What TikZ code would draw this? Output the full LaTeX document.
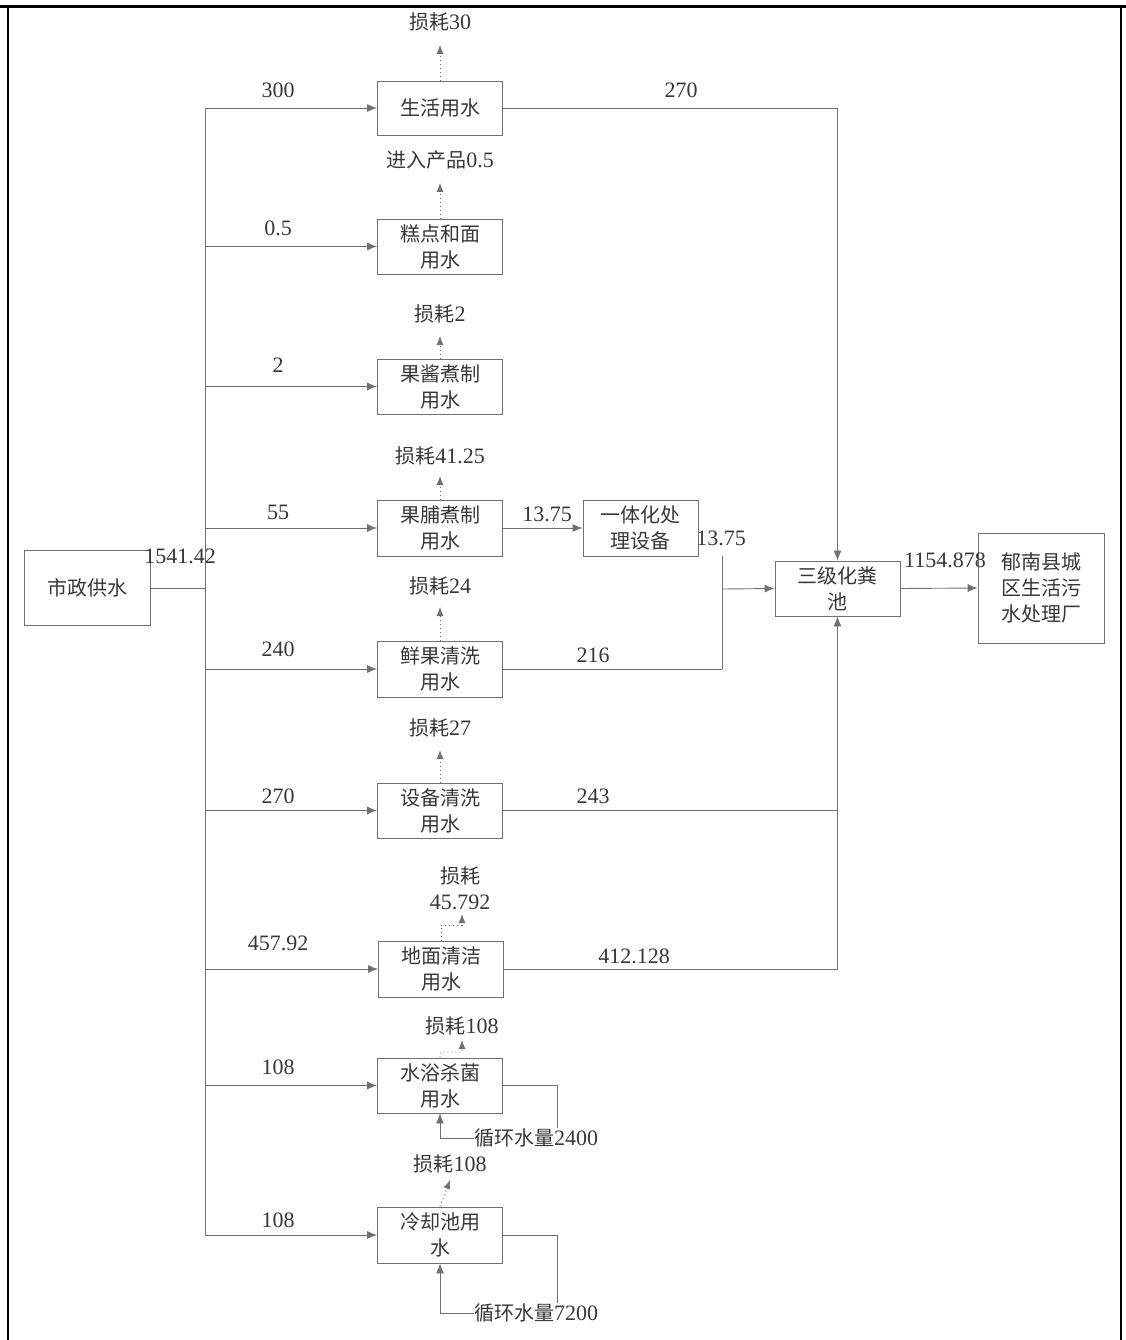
\documentclass[tikz,border=0pt]{standalone}
\usepackage{fontspec}
\setmainfont{Liberation Serif}[Scale=1.1]
\newfontfamily\cjk{Noto Sans CJK SC}
\usetikzlibrary{arrows.meta}
\definecolor{ln}{RGB}{112,112,112}
\definecolor{tx}{RGB}{55,55,55}
\newcommand\zh[1]{{\cjk #1}}
\begin{document}
\begin{tikzpicture}[x=1pt,y=-1pt,
  box/.style={draw=ln, line width=0.9pt, minimum width=125pt, minimum height=55pt, inner sep=1pt, align=center, text=tx, font=\fontsize{20}{26}\selectfont},
  lab/.style={text=tx, font=\fontsize{20}{26}\selectfont, inner sep=1pt, align=center},
  flow/.style={draw=ln, line width=0.9pt, -{Latex[length=10pt,width=8pt]}},
  pl/.style={draw=ln, line width=0.9pt},
  loss/.style={draw=ln, line width=0.9pt, dash pattern=on 1pt off 3pt, -{Latex[length=9pt,width=7pt]}}]
\useasboundingbox (0,0) rectangle (1126,1340);
% frame
\draw[line width=3pt] (0,7) -- (1126,7);
\draw[line width=1.2pt] (8,7) -- (8,1340);
\draw[line width=1.2pt] (1121,7) -- (1121,1340);

% source
\node[box, minimum width=126pt, minimum height=75pt] (src) at (87,588) {\zh{市政供水}};
\coordinate (bt) at (205,108);
\coordinate (bb) at (205,1235);
\coordinate (bm) at (205,588);
\draw[pl] (src.east) -- (bm);
\draw[pl] (bt) -- (bb);
\node[lab] at (180,556) {1541.42};

% process boxes
\node[box, minimum height=54pt] (b1) at (440,108) {\zh{生活用水}};
\node[box] (b2) at (440,246.5) {\zh{糕点和面}\\\zh{用水}};
\node[box] (b3) at (440,386.5) {\zh{果酱煮制}\\\zh{用水}};
\node[box, minimum height=56pt] (b4) at (440,528) {\zh{果脯煮制}\\\zh{用水}};
\node[box, minimum height=56pt] (b5) at (440,669) {\zh{鲜果清洗}\\\zh{用水}};
\node[box] (b6) at (440,810.5) {\zh{设备清洗}\\\zh{用水}};
\node[box, minimum height=56pt] (b7) at (441,969) {\zh{地面清洁}\\\zh{用水}};
\node[box] (b8) at (440,1085.5) {\zh{水浴杀菌}\\\zh{用水}};
\node[box, minimum height=56pt] (b9) at (440,1235) {\zh{冷却池用}\\\zh{水}};

% branches
\foreach \b/\v/\ly in {b1/300/90, b2/0.5/228, b3/2/365, b4/55/512, b5/240/649, b6/270/796, b7/457.92/943, b8/108/1067, b9/108/1220}{
  \draw[flow] (205,0 |- \b.west) -- (\b.west);
  \node[lab] at (278,\ly) {\v};
}

% losses
\node[lab] (l1) at (440,22) {\zh{损耗}30};
\node[lab] (l2) at (440,160) {\zh{进入产品}0.5};
\node[lab] (l3) at (440,314) {\zh{损耗}2};
\node[lab] (l4) at (440,456) {\zh{损耗}41.25};
\node[lab] (l5) at (440,586) {\zh{损耗}24};
\node[lab] (l6) at (440,728) {\zh{损耗}27};
\node[lab] (l7) at (460,888) {\zh{损耗}\\45.792};
\node[lab] (l8) at (462,1026) {\zh{损耗}108};
\node[lab] (l9) at (450,1164) {\zh{损耗}108};
\draw[loss] (b1.north) -- (440,45);
\draw[loss] (b2.north) -- (440,183);
\draw[loss] (b3.north) -- (440,336);
\draw[loss] (b4.north) -- (440,476);
\draw[loss] (b5.north) -- (440,607);
\draw[loss] (b6.north) -- (440,750);
\draw[loss] (b7.north) -- (441,925) -- (462,925) -- (462,914);
\draw[loss] (b8.north) -- (441,1052) -- (462,1052) -- (462,1040);
\draw[loss] (b9.north) -- (450,1180);

% integrated treatment
\node[box, minimum width=115pt, minimum height=56pt] (yt) at (640.5,528) {\zh{一体化处}\\\zh{理设备}};
\draw[flow] (b4.east) -- (yt.west);
\node[lab] at (547,514) {13.75};
\node[lab] at (721,538) {13.75};
\coordinate (j1) at (722,556);
\coordinate (j2) at (722,669);
\coordinate (j3) at (722,589);
\draw[pl] (j1) -- (j2);
\draw[pl] (b5.east) -- (j2);
\node[lab] at (593,655) {216};

% septic tank
\node[box] (sj) at (837.5,588.5) {\zh{三级化粪}\\\zh{池}};
\draw[flow] (j3) -- (sj.west);
\draw[flow] (b1.east) -| (sj.north);
\node[lab] at (681,90) {270};
\draw[pl] (b6.east) -- (sj.south |- b6.east);
\draw[flow] (b7.east) -| (sj.south);
\node[lab] at (593,796) {243};
\node[lab] at (634,956) {412.128};

% WWTP
\node[box, minimum width=126pt, minimum height=110pt] (wt) at (1041,588) {\zh{郁南县城}\\\zh{区生活污}\\\zh{水处理厂}};
\draw[flow] (sj.east) -- (wt.west);
\node[lab] at (945,560) {1154.878};

% recirculation
\node[lab, anchor=west, inner sep=0pt] (r1) at (474,1138) {\zh{循环水量}2400};
\node[lab, anchor=west, inner sep=0pt] (r2) at (474,1313) {\zh{循环水量}7200};
\draw[pl] (b8.east) -- (557,1085.5) -- (557,1128);
\draw[flow] (r1.west) -| (b8.south);
\draw[pl] (b9.east) -- (557,1235) -- (557,1303);
\draw[flow] (r2.west) -| (b9.south);
\end{tikzpicture}
\end{document}
